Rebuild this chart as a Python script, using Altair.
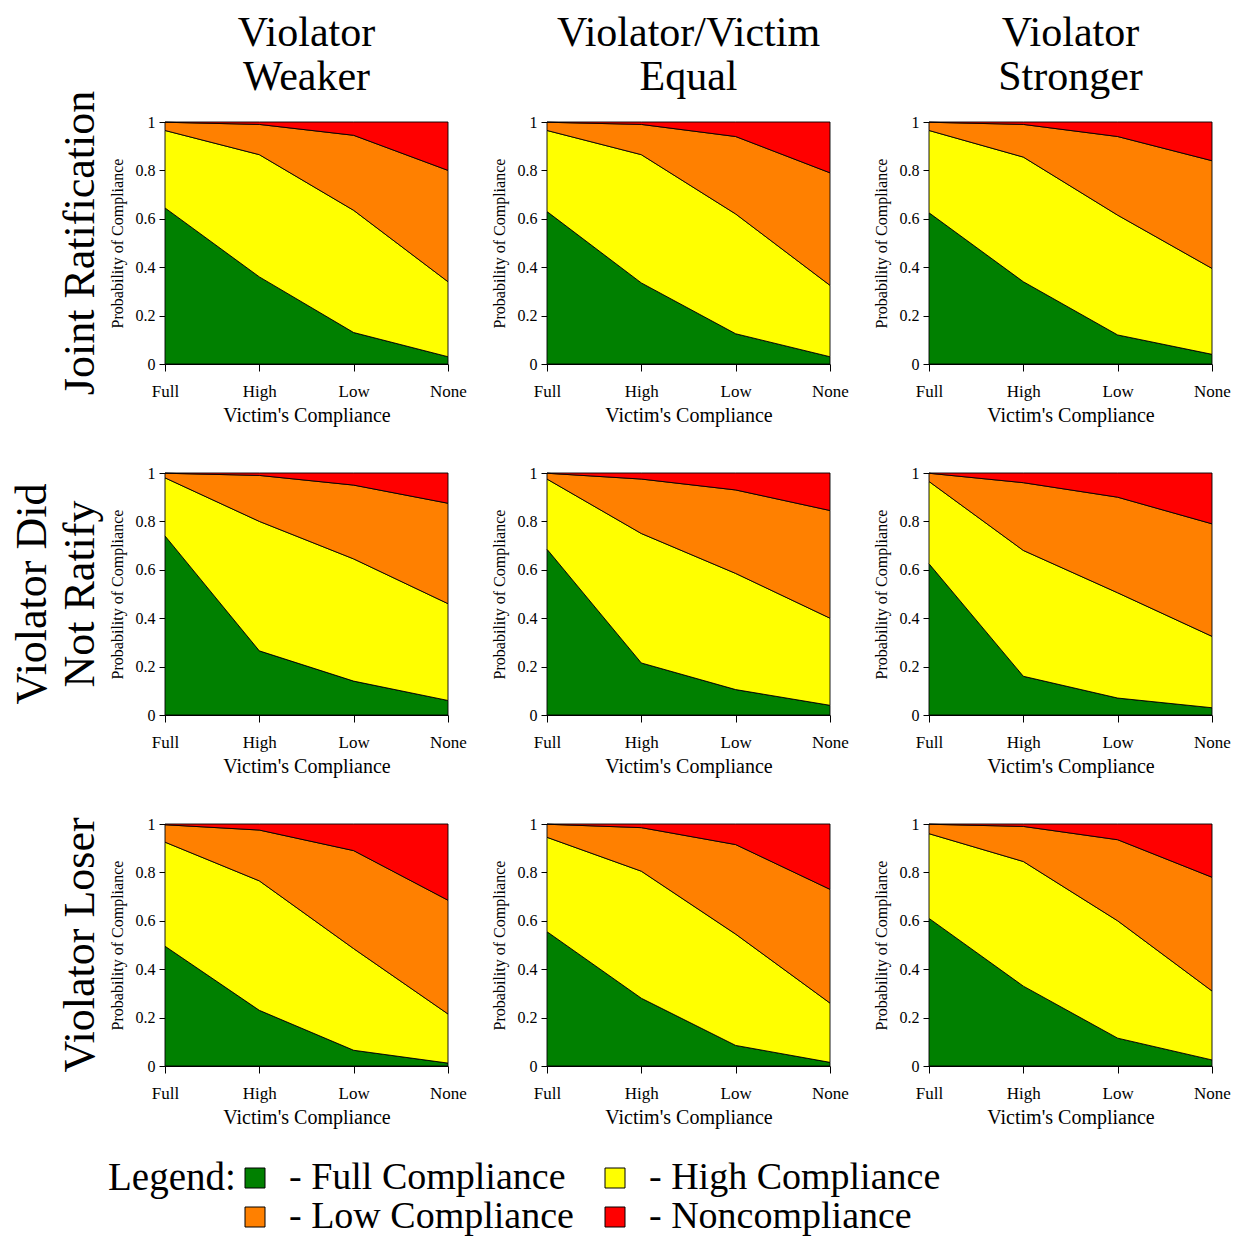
import altair as alt
import pandas as pd

# Facet labels ("|" marks a line break)
col_labels = ["Violator|Weaker", "Violator/Victim|Equal", "Violator|Stronger"]
row_labels = ["Joint Ratification", "Violator Did|Not Ratify", "Violator Loser"]
levels = ["Full", "High", "Low", "None"]
categories = ["Full Compliance", "High Compliance", "Low Compliance", "Noncompliance"]
colors = ["#008000", "#FFFF00", "#FF8000", "#FF0000"]

# Cumulative boundaries, panels in row-major order
green_top = [
    [0.645, 0.36, 0.13, 0.03],
    [0.63, 0.335, 0.125, 0.03],
    [0.625, 0.34, 0.12, 0.04],
    [0.74, 0.265, 0.14, 0.06],
    [0.685, 0.215, 0.105, 0.04],
    [0.625, 0.16, 0.07, 0.03],
    [0.495, 0.23, 0.065, 0.012],
    [0.555, 0.28, 0.085, 0.015],
    [0.61, 0.33, 0.115, 0.025],
]
yellow_top = [
    [0.965, 0.865, 0.635, 0.34],
    [0.965, 0.865, 0.62, 0.325],
    [0.965, 0.855, 0.615, 0.395],
    [0.98, 0.80, 0.645, 0.46],
    [0.975, 0.75, 0.585, 0.40],
    [0.965, 0.68, 0.505, 0.325],
    [0.925, 0.765, 0.485, 0.215],
    [0.945, 0.805, 0.545, 0.26],
    [0.96, 0.845, 0.60, 0.31],
]
orange_top = [
    [0.999, 0.99, 0.945, 0.80],
    [0.999, 0.99, 0.94, 0.79],
    [0.999, 0.99, 0.94, 0.84],
    [0.999, 0.99, 0.95, 0.875],
    [0.999, 0.975, 0.93, 0.845],
    [0.999, 0.96, 0.90, 0.79],
    [0.997, 0.975, 0.89, 0.685],
    [0.999, 0.985, 0.915, 0.73],
    [0.999, 0.99, 0.935, 0.78],
]

records = []
for p in range(9):
    r, c = divmod(p, 3)
    for i, lev in enumerate(levels):
        bounds = [0.0, green_top[p][i], yellow_top[p][i], orange_top[p][i], 1.0]
        for k, cat in enumerate(categories):
            records.append({
                "row": row_labels[r], "col": col_labels[c], "level": lev,
                "category": cat, "lo": bounds[k], "hi": bounds[k + 1],
            })
df = pd.DataFrame(records)

FONT = "Liberation Serif"

area = alt.Chart(df).mark_area(stroke="black", strokeWidth=0.9, interpolate="linear").encode(
    x=alt.X("level:O", sort=levels, scale=alt.Scale(type="point", padding=0),
            axis=alt.Axis(title="Victim's Compliance", labelAngle=0, labelFontSize=17,
                          titleFontSize=20, titleFontWeight="normal", labelFont=FONT, titleFont=FONT,
                          tickSize=7, labelPadding=12, titlePadding=6, domainColor="black",
                          tickColor="black", labelColor="black", titleColor="black", grid=False)),
    y=alt.Y("lo:Q", scale=alt.Scale(domain=[0, 1], nice=False),
            axis=alt.Axis(title="Probability of Compliance", values=[0, 0.2, 0.4, 0.6, 0.8, 1],
                          labelExpr="datum.value == 0 ? '0' : datum.value == 1 ? '1' : format(datum.value, '.1f')",
                          labelFontSize=16, titleFontSize=16, titleFontWeight="normal",
                          labelFont=FONT, titleFont=FONT, tickSize=6, labelPadding=4, titlePadding=10,
                          domainColor="black", tickColor="black", labelColor="black",
                          titleColor="black", grid=False)),
    y2="hi:Q",
    color=alt.Color("category:N", sort=categories,
                    scale=alt.Scale(domain=categories, range=colors),
                    legend=alt.Legend(title="Legend:", titleOrient="left", titleAnchor="start",
                                      titleBaseline="top", orient="none",
                                      legendX=-57, legendY=1037, direction="horizontal",
                                      columns=2, symbolType="square", symbolSize=400,
                                      symbolStrokeColor="black", symbolStrokeWidth=1,
                                      labelFontSize=38, titleFontSize=39, labelFont=FONT,
                                      titleFont=FONT, titleFontWeight="normal",
                                      labelColor="black", titleColor="black",
                                      labelExpr="'- ' + datum.label", labelLimit=500,
                                      labelOffset=15, columnPadding=22, rowPadding=1,
                                      titlePadding=0)),
    order=alt.Order("category:N"),
).properties(width=283, height=242)

chart = area.facet(
    row=alt.Row("row:N", sort=row_labels,
                header=alt.Header(title=None, labelFontSize=44, labelFont=FONT, labelColor="black",
                                  labelExpr="split(datum.value, '|')", labelLineHeight=48,
                                  labelPadding=6)),
    column=alt.Column("col:N", sort=col_labels,
                      header=alt.Header(title=None, labelFontSize=42, labelFont=FONT,
                                        labelColor="black", labelExpr="split(datum.value, '|')",
                                        labelLineHeight=44, labelPadding=15)),
    spacing={"row": 40, "column": 24},
).resolve_axis(x="independent", y="independent").configure_view(strokeWidth=0).properties(
    padding={"left": 3, "top": 4, "right": 0, "bottom": 0}
)

chart.save("out.html", embed_options={"renderer": "svg", "actions": False})
